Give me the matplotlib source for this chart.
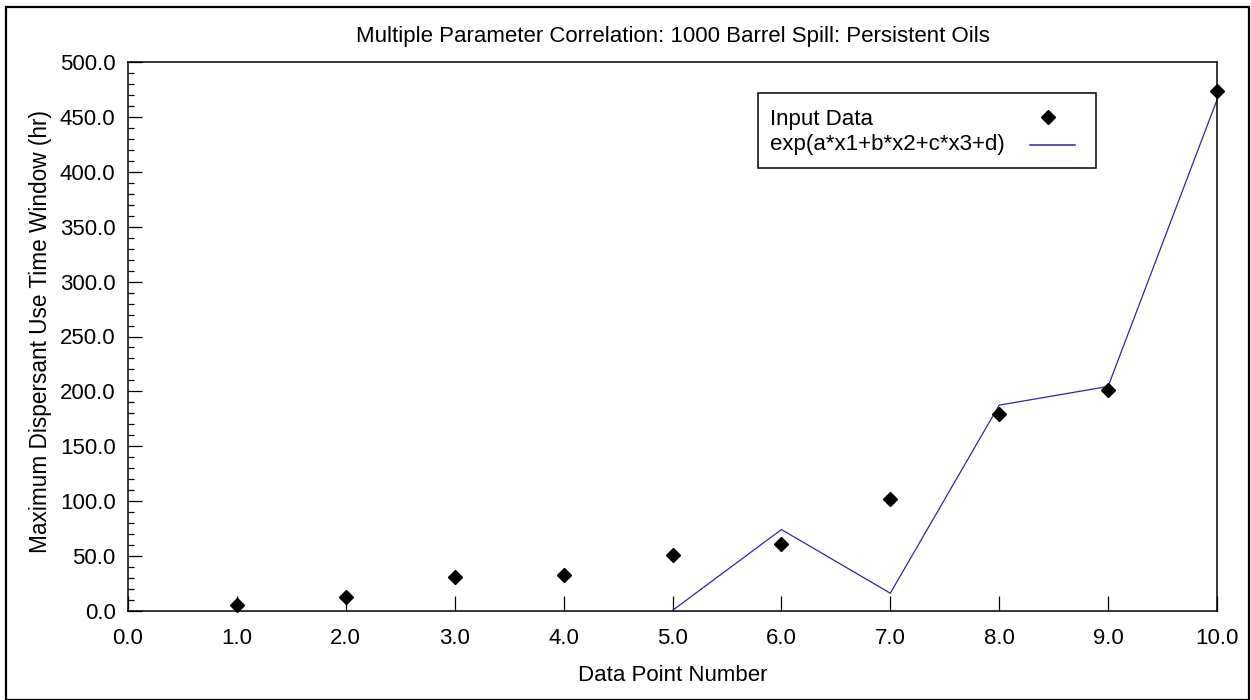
import matplotlib
matplotlib.use("Agg")
import matplotlib.pyplot as plt
from matplotlib.ticker import MultipleLocator, FormatStrFormatter
from matplotlib.patches import Rectangle
from matplotlib.lines import Line2D

# data
point_number = [1, 2, 3, 4, 5, 6, 7, 8, 9, 10]
input_data = [5.5, 13.2, 30.8, 32.4, 51.3, 60.8, 102.0, 179.0, 201.5, 473.5]

fit_number = [5, 6, 7, 8, 9, 10]
fit_values = [0.5, 74.2, 16.2, 187.5, 204.5, 465.5]

title = "Multiple Parameter Correlation: 1000 Barrel Spill: Persistent Oils"
xlabel = "Data Point Number"
ylabel = "Maximum Dispersant Use Time Window (hr)"
legend_labels = ["Input Data", "exp(a*x1+b*x2+c*x3+d)"]

line_color = "#2a2a9c"
fs = 16

plt.rcParams['font.family'] = ['Liberation Sans', 'DejaVu Sans']

fig = plt.figure(figsize=(12.51, 7.0), dpi=100)
ax = fig.add_axes([128 / 1251, 89 / 700, 1089 / 1251, 549 / 700])

ax.plot(fit_number, fit_values, color=line_color, lw=0.9, zorder=2, clip_on=False)
ax.plot(point_number, input_data, linestyle="none", marker="D", markersize=7,
        color="black", zorder=3, clip_on=False)

ax.set_xlim(0, 10)
ax.set_ylim(0, 500)
ax.xaxis.set_major_locator(MultipleLocator(1))
ax.yaxis.set_major_locator(MultipleLocator(50))
ax.yaxis.set_minor_locator(MultipleLocator(10))
ax.xaxis.set_major_formatter(FormatStrFormatter("%.1f"))
ax.yaxis.set_major_formatter(FormatStrFormatter("%.1f"))

ax.tick_params(axis="x", which="major", direction="in", length=11, width=0.9,
               pad=12.5, labelsize=fs, top=False)
ax.tick_params(axis="y", which="major", direction="in", length=10, width=0.9,
               pad=9, labelsize=fs, right=False)
ax.tick_params(axis="y", which="minor", direction="in", length=4.5, width=0.9,
               right=False)
for sp in ax.spines.values():
    sp.set_linewidth(1.1)

ax.set_xlabel(xlabel, fontsize=fs)
ax.set_ylabel(ylabel, fontsize=16.3)
ax.xaxis.set_label_coords(0.5, -0.0984)
ax.yaxis.set_label_coords(-0.0697, 0.51)
ax.set_title(title, fontsize=fs, y=1.047, va="center", pad=0)

# legend box drawn by hand: labels left, symbols right
ax.add_patch(Rectangle((0.5785, 0.807), 0.3105, 0.1365, transform=ax.transAxes,
                       facecolor="white", edgecolor="black", lw=1.1, zorder=4))
ax.text(0.5895, 0.895, legend_labels[0], transform=ax.transAxes, fontsize=fs,
        va="center", ha="left", zorder=5)
ax.text(0.5895, 0.850, legend_labels[1], transform=ax.transAxes, fontsize=fs,
        va="center", ha="left", zorder=5)
ax.add_line(Line2D([0.845], [0.900], transform=ax.transAxes, marker="D",
                   markersize=7, color="black", linestyle="none", zorder=5))
ax.add_line(Line2D([0.828, 0.870], [0.848, 0.848], transform=ax.transAxes,
                   color=line_color, lw=1.1, zorder=5))

# outer frame around the whole picture
fig.patches.append(Rectangle((6 / 1251, 0.5 / 700), 1243 / 1251, 693 / 700,
                             transform=fig.transFigure, fill=False,
                             edgecolor="black", lw=1.6))

fig.savefig("out.png", dpi=100)
plt.close(fig)
